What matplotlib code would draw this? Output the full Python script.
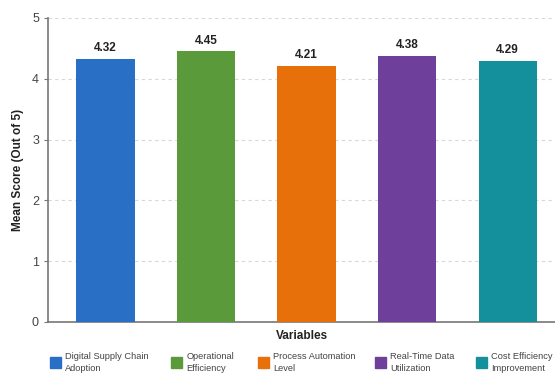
import matplotlib
matplotlib.use("Agg")
import matplotlib.pyplot as plt
from matplotlib.patches import Patch

categories = ["Digital Supply Chain\nAdoption", "Operational\nEfficiency",
              "Process Automation\nLevel", "Real-Time Data\nUtilization",
              "Cost Efficiency\nImprovement"]
values = [4.32, 4.45, 4.21, 4.38, 4.29]
colors = ["#2a6fc6", "#5a9a3a", "#e8700a", "#6e3f9b", "#14909c"]
yticks = [0, 1, 2, 3, 4, 5]

plt.rcParams['font.family'] = ['Liberation Sans', 'DejaVu Sans']

W, H = 555, 374
fig = plt.figure(figsize=(W / 100, H / 100), dpi=100)
ax = fig.add_axes([48 / W, 1 - 322 / H, 1 - 48 / W, (322 - 18) / H])

x = list(range(len(values)))
ax.bar(x, values, width=0.58, color=colors, zorder=3)
for xi, v in zip(x, values):
    ax.text(xi, v + 0.08, f"{v:.2f}", ha="center", va="bottom",
            fontsize=8.5, fontweight="bold", color="#222222")

ax.set_ylim(0, 5)
ax.set_xlim(-0.57, 4.47)
ax.set_yticks(yticks)
ax.set_xticks([])
ax.tick_params(axis="y", labelsize=9, colors="#444444", length=3, color="#777777")
ax.yaxis.grid(True, linestyle=(0, (3, 3)), color="#d8d8d8", linewidth=0.8, zorder=0)
for s in ["top", "right"]:
    ax.spines[s].set_visible(False)
for s in ["left", "bottom"]:
    ax.spines[s].set_color("#777777")
    ax.spines[s].set_linewidth(1.2)

ax.set_ylabel("Mean Score (Out of 5)", fontsize=8.5, fontweight="bold", color="#222222", labelpad=6)
ax.set_xlabel("Variables", fontsize=8.5, fontweight="bold", color="#222222", labelpad=6)

# legend entries placed at the reference positions (pixel x of square's left edge)
leg_x = [50, 171, 258, 375, 476]
for lx, lab, c in zip(leg_x, categories, colors):
    leg = fig.legend([Patch(facecolor=c, edgecolor=c)], [lab], loc="upper left",
                     bbox_to_anchor=(lx / W, 1 - 352 / H), frameon=False,
                     fontsize=6.7, handlelength=1.2, handleheight=1.4,
                     handletextpad=0.45, borderpad=0, borderaxespad=0,
                     labelcolor="#444444")
    for t in leg.get_texts():
        t.set_linespacing(1.4)

fig.savefig("out.png", dpi=100)
